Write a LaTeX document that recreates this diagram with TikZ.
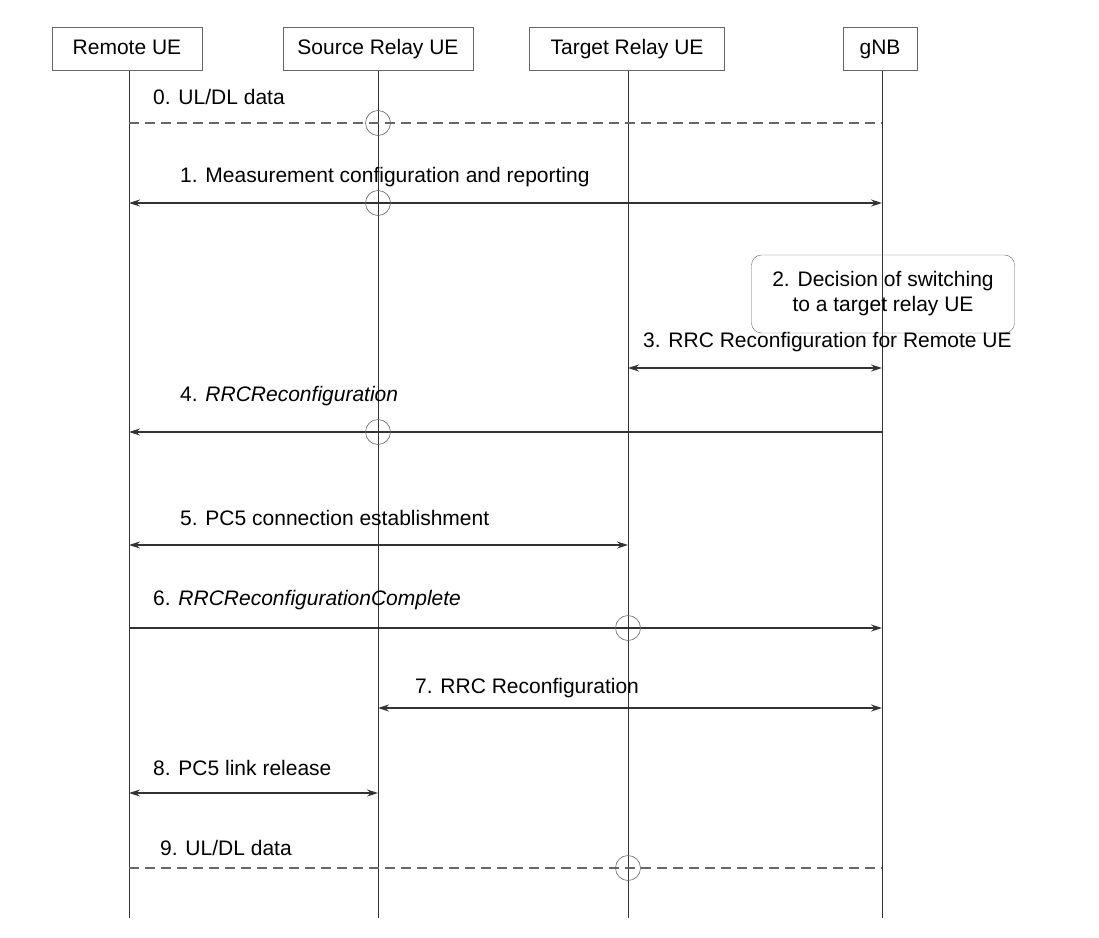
\documentclass[tikz,border=0pt]{standalone}
\usepackage{fontspec}
\setmainfont{Liberation Sans}
\usetikzlibrary{arrows.meta}
\begin{document}
\begin{tikzpicture}[x=1pt, y=-1pt,
  entity/.style={draw=black!60, minimum height=43pt, inner sep=0pt, text height=15pt, text depth=4pt, font=\fontsize{21}{25}\selectfont},
  life/.style={black!80, line width=0.9pt},
  msg/.style={black!80, line width=1.2pt},
  data/.style={black!60, line width=1.4pt, dash pattern=on 10pt off 6pt},
  both/.style={{Stealth[length=11pt,width=7pt]}-{Stealth[length=11pt,width=7pt]}},
  lbl/.style={anchor=west, inner sep=0pt, font=\fontsize{21}{25}\selectfont},
  cross/.style={draw=black!60, line width=0.6pt}]
\useasboundingbox (0,0) rectangle (1099,937);

% entities
\node [entity, minimum width=150pt] (remote) at (127,49) {Remote UE};
\node [entity, minimum width=190pt] (source) at (378,49) {Source Relay UE};
\node [entity, minimum width=195pt] (target) at (627,49) {Target Relay UE};
\node [entity, minimum width=74pt] (gnb) at (880,49) {gNB};

% lifelines
\coordinate (remoteend) at (129,918);
\coordinate (sourceend) at (378,918);
\coordinate (targetend) at (628,918);
\coordinate (gnbend) at (882,918);
\draw [life] (remote.south -| remoteend) -- (remoteend);
\draw [life] (source.south -| sourceend) -- (sourceend);
\draw [life] (target.south -| targetend) -- (targetend);
\draw [life] (gnb.south -| gnbend) -- (gnbend);

% messages
\draw [data] (129,123) -- (882,123);
\node [lbl] (m0) at (153,97) {0. UL/DL data};
\draw [cross] (378,123) circle (12.5pt);

\draw [msg, both] (129,203) -- (882,203);
\node [lbl] (m1) at (180,177) {1. Measurement configuration and reporting};
\draw [cross] (378,203) circle (12.5pt);

\node [draw=black!60, rounded corners=10pt, minimum width=263pt, minimum height=78pt,
  align=center, font=\fontsize{21}{25}\selectfont] (decision) at (883,294)
  {2. Decision of switching\\to a target relay UE};

\draw [msg, both] (628,368) -- (882,368);
\node [lbl] (m3) at (643,342) {3. RRC Reconfiguration for Remote UE};

\draw [msg, -{Stealth[length=11pt,width=7pt]}] (882,432) -- (129,432);
\node [lbl] (m4) at (180,396) {4. \textit{RRCReconfiguration}};
\draw [cross] (378,432) circle (12.5pt);

\draw [msg, both] (129,545) -- (628,545);
\node [lbl] (m5) at (180,518) {5. PC5 connection establishment};

\draw [msg, -{Stealth[length=11pt,width=7pt]}] (129,628) -- (882,628);
\node [lbl] (m6) at (153,600) {6. \textit{RRCReconfigurationComplete}};
\draw [cross] (628,628) circle (12.5pt);

\draw [msg, both] (378,708) -- (882,708);
\node [lbl] (m7) at (415,688) {7. RRC Reconfiguration};

\draw [msg, both] (129,793) -- (378,793);
\node [lbl] (m8) at (153,768) {8. PC5 link release};

\draw [data] (129,868) -- (882,868);
\node [lbl] (m9) at (160,848) {9. UL/DL data};
\draw [cross] (628,868) circle (12.5pt);
\end{tikzpicture}
\end{document}
